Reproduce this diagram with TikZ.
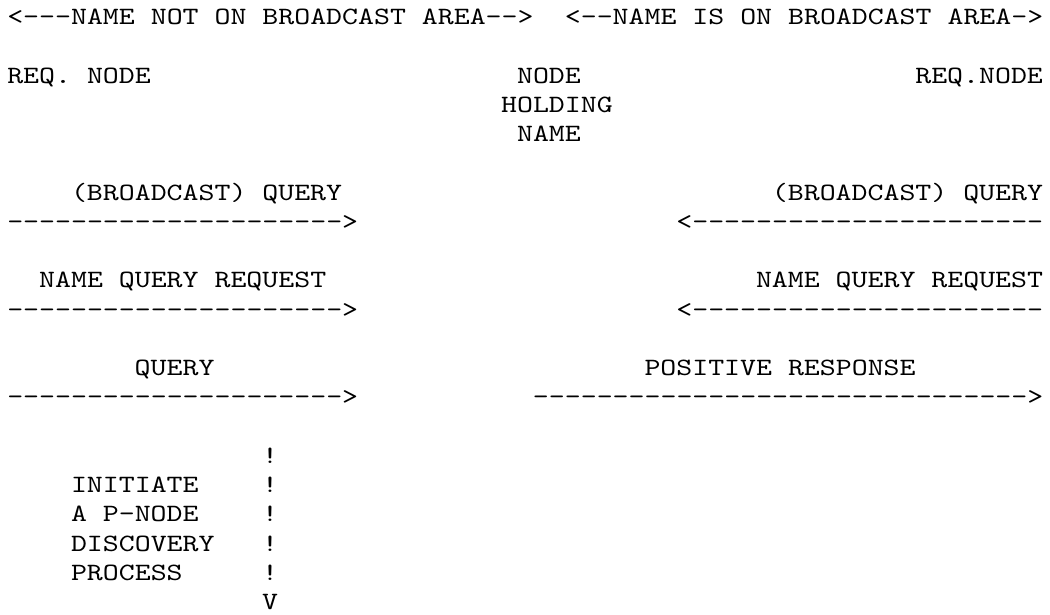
\documentclass[tikz,border=0pt]{standalone}
\usepackage{fontspec}
\newfontfamily\ascmono{lmmono10-regular.otf}[FakeStretch=1.22,Ligatures=TeXOff]
\newcommand\asctxt[4]{\node[txt] (#1) at ({7.3+#2*15.93},{24.6+#3*29.25}) {#4};}
\newcommand\dashrun[1]{\foreach\k in {1,...,#1}{-}}
\begin{document}
\begin{tikzpicture}[x=1pt,y=-1pt,
  txt/.style={anchor=base west,inner sep=0pt,outer sep=0pt,font=\ascmono\fontsize{24.9}{29}\selectfont,text=black}]
\fill[white] (0,0) rectangle (1050,614);
\useasboundingbox (0,0) rectangle (1050,614);
% header
\asctxt{hL}{0}{0}{<---NAME NOT ON BROADCAST AREA-->}
\asctxt{hR}{35}{0}{<--NAME IS ON BROADCAST AREA->}
% nodes
\asctxt{reqA}{0}{2}{REQ. NODE}
\asctxt{holdA}{32}{2}{NODE}
\asctxt{holdB}{31}{3}{HOLDING}
\asctxt{holdC}{32}{4}{NAME}
\asctxt{reqB}{57}{2}{REQ.NODE}
% messages
\asctxt{m1L}{4}{6}{(BROADCAST) QUERY}
\asctxt{m1R}{48}{6}{(BROADCAST) QUERY}
\asctxt{a1L}{0}{7}{\dashrun{21}>}
\asctxt{a1R}{42}{7}{<\dashrun{22}}
\asctxt{m2L}{2}{9}{NAME QUERY REQUEST}
\asctxt{m2R}{47}{9}{NAME QUERY REQUEST}
\asctxt{a2L}{0}{10}{\dashrun{21}>}
\asctxt{a2R}{42}{10}{<\dashrun{22}}
\asctxt{m3L}{8}{12}{QUERY}
\asctxt{m3R}{40}{12}{POSITIVE RESPONSE}
\asctxt{a3L}{0}{13}{\dashrun{21}>}
\asctxt{a3R}{33}{13}{\dashrun{31}>}
% discovery
\asctxt{v0}{16}{15}{!}
\asctxt{d1}{4}{16}{INITIATE}
\asctxt{v1}{16}{16}{!}
\asctxt{d2}{4}{17}{A P-NODE}
\asctxt{v2}{16}{17}{!}
\asctxt{d3}{4}{18}{DISCOVERY}
\asctxt{v3}{16}{18}{!}
\asctxt{d4}{4}{19}{PROCESS}
\asctxt{v4}{16}{19}{!}
\asctxt{v5}{16}{20}{V}
\end{tikzpicture}
\end{document}
